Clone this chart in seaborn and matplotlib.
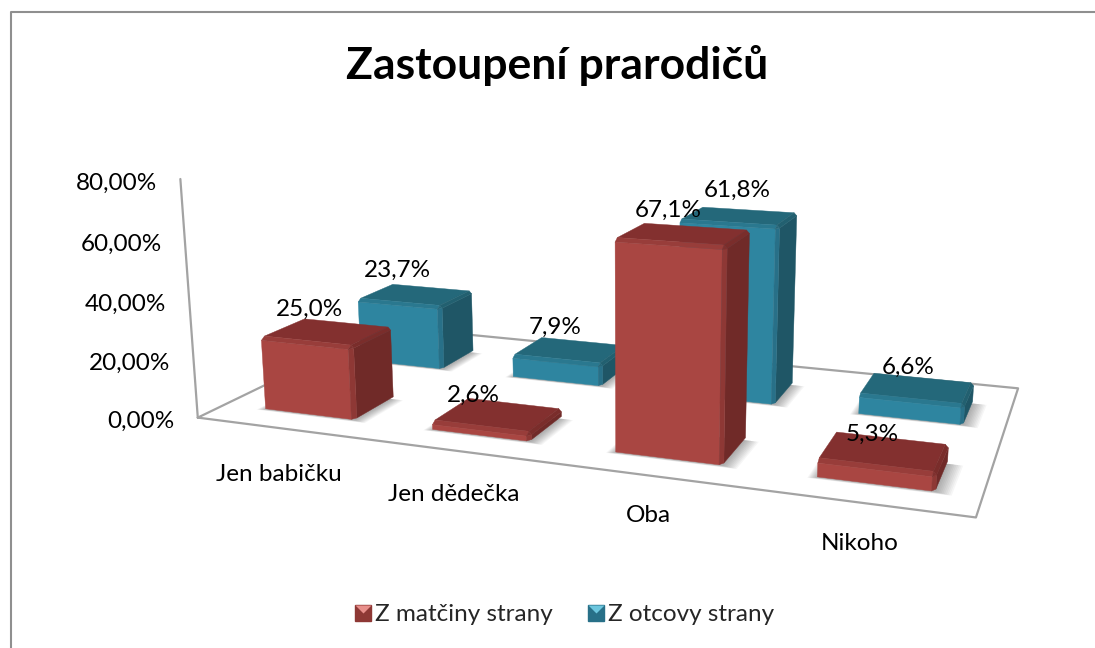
import numpy as np
import matplotlib
matplotlib.use("Agg")
import matplotlib.pyplot as plt
from matplotlib.legend_handler import HandlerTuple
from matplotlib.lines import Line2D
from mpl_toolkits.mplot3d.art3d import Poly3DCollection
from mpl_toolkits.mplot3d import proj3d
import seaborn as sns

categories = ['Jen babičku', 'Jen dědečka', 'Oba', 'Nikoho']
series_names = ['Z matčiny strany', 'Z otcovy strany']
matcina = [25.0, 2.6, 67.1, 5.3]
otcova = [23.7, 7.9, 61.8, 6.6]
z_ticks = [0, 20, 40, 60, 80]

sns.set_theme(style='white')
plt.rcParams['font.family'] = ['Lato', 'DejaVu Sans']

# front, top, right, then the bevels between them
red_faces = sns.color_palette(['#A94642', '#83302F', '#702A28', '#983D3A', '#7A2D2B', '#8E3835', '#80302E'])
teal_faces = sns.color_palette(['#2E85A0', '#24687A', '#1F5666', '#2A788F', '#226070', '#287088', '#25677A'])

# pixel nudges for the labels
red_label_dx = [7, -3.5, 2.5, 1]
teal_label_dx = [2, 2, 12.5, 1]
category_nudge = [(8, 1), (7.2, 5.5), (8.4, 12), (5.6, 14.5)]

W, H = 1095, 648
BAR_W, BAR_D = 0.54, 0.42
FS = 17.5

fig = plt.figure(figsize=(W / 100, H / 100), dpi=100, facecolor='white')
size = 847.75
ax = fig.add_axes([185.0 / W, -76.26 / H, size / W, size / H], projection='3d')
ax.set_xlim(0, 4, view_margin=0)
ax.set_ylim(0, 2, view_margin=0)
ax.set_zlim(0, 80, view_margin=0)
ax.set_box_aspect((1, 0.4989, 0.3163))
ax.view_init(13.2383, -69.7715, 0.1123)
ax.set_proj_type('persp', focal_length=0.3119)
ax.set_axis_off()
ax.computed_zorder = False

# floor outline and the value axis
line = dict(color='#A3A3A3', lw=1.6, clip_on=False, zorder=1)
ax.plot([0, 4, 4, 0, 0], [0, 0, 2, 2, 0], [0, 0, 0, 0, 0], **line)
ax.plot([0, 0], [0, 0], [0, 80], **line)


def label(x, y, z, text, dx, dy, ha='center'):
    # text is anchored on a 3d point and moved from there in pixels
    px, py, _ = proj3d.proj_transform(x, y, z, ax.get_proj())
    ax.annotate(text, (px, py), xytext=(dx, dy), textcoords='offset pixels', ha=ha, va='center',
                fontsize=FS, color='black', annotation_clip=False, zorder=40)


def shadow(x0, x1, y0, y1, zorder):
    for g in np.linspace(0.005, 0.075, 10):
        quad = [[(x0 - g * 0.6, y0 - g * 0.3, 0), (x1 + g, y0 - g * 0.3, 0),
                 (x1 + g, y1 - 0.03, 0), (x0 - g * 0.6, y1 - 0.03, 0)]]
        ax.add_collection3d(Poly3DCollection(quad, facecolors=(0, 0, 0, 0.035), linewidths=0, zorder=zorder))


def bar(x0, y0, h, faces, zorder):
    x1, y1 = x0 + BAR_W, y0 + BAR_D
    bx, by, bz = 0.015, 0.03, min(1.0, h * 0.4)
    polys = [
        [(x0, y0, 0), (x1 - bx, y0, 0), (x1 - bx, y0, h - bz), (x0, y0, h - bz)],
        [(x0, y0 + by, h), (x1 - bx, y0 + by, h), (x1 - bx, y1, h), (x0, y1, h)],
        [(x1, y0 + by, 0), (x1, y1, 0), (x1, y1, h - bz), (x1, y0 + by, h - bz)],
        [(x0, y0, h - bz), (x1 - bx, y0, h - bz), (x1 - bx, y0 + by, h), (x0, y0 + by, h)],
        [(x1 - bx, y0 + by, h), (x1, y0 + by, h - bz), (x1, y1, h - bz), (x1 - bx, y1, h)],
        [(x1 - bx, y0, 0), (x1, y0 + by, 0), (x1, y0 + by, h - bz), (x1 - bx, y0, h - bz)],
        [(x1 - bx, y0, h - bz), (x1, y0 + by, h - bz), (x1 - bx, y0 + by, h)],
    ]
    ax.add_collection3d(Poly3DCollection(polys, facecolors=faces, edgecolors=faces, linewidths=0.3, zorder=zorder))


# back row first, the front row covers it
rows = [(matcina, red_faces, red_label_dx), (otcova, teal_faces, teal_label_dx)]
for row, (values, faces, nudge) in reversed(list(enumerate(rows))):
    y0 = row + 0.25
    base = 3 + (1 - row) * 10
    for i, v in enumerate(values):
        x0 = i + 0.25
        shadow(x0, x0 + BAR_W, y0, y0 + BAR_D, base)
        bar(x0, y0, v, faces, base + 1)
        label(x0 + 0.25, y0, v, f'{v:.1f}%'.replace('.', ','), nudge[i], 32)

for z in z_ticks:
    label(0, 0, z, f'{z:.2f}%'.replace('.', ','), -23, -4, ha='right')

for i, name in enumerate(categories):
    label(i + 0.5, -0.1, -14, name, *category_nudge[i])

fig.text(557 / W, 1 - 66 / H, 'Zastoupení prarodičů', ha='center', va='center', fontsize=32, fontweight='bold', color='black')

# legend keys: a square with a lighter triangle on its upper half
handles = []
for dark, light in [('#8E3835', '#E88F8B'), ('#287088', '#6CC6DE')]:
    handles.append((Line2D([], [], ls='', marker='s', ms=11.5, color=dark),
                    Line2D([], [], ls='', marker=[(-0.8, 0.8), (0.8, 0.8), (0, 0)], ms=11.5, color=light, mew=0)))
fig.legend(handles, series_names, handler_map={tuple: HandlerTuple(ndivide=1, pad=0)},
           loc='center', bbox_to_anchor=(562.5 / W, 1 - 614.5 / H), ncol=2, frameon=False,
           fontsize=FS, handlelength=1, handletextpad=0, columnspacing=1.25)

# the chart frame runs off the picture on the right
fig.add_artist(Line2D([10.5 / W, 10.5 / W, 1], [0, 1 - 11.5 / H, 1 - 11.5 / H], color='#8F8F8F', lw=1.5))

fig.savefig('out.png', dpi=100, facecolor='white')
